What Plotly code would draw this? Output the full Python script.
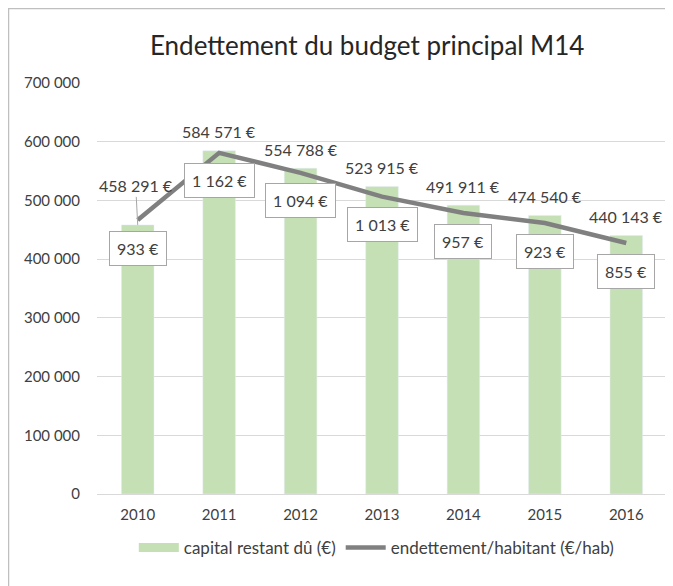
import plotly.graph_objects as go

years = ["2010", "2011", "2012", "2013", "2014", "2015", "2016"]
capital = [458291, 584571, 554788, 523915, 491911, 474540, 440143]
par_habitant = [933, 1162, 1094, 1013, 957, 923, 855]
y_ticks = [0, 100000, 200000, 300000, 400000, 500000, 600000, 700000]

GREEN = "#C5E0B4"
GRAY = "#808080"
TXT = "#404040"
FONT = "Lato"

pos = list(range(len(years)))

# figure is drawn inside the page's 8px body margin
W, H = 665, 578
L, R, T, B = 89, 6, 75, 92
PW, PH = W - L - R, H - T - B


def fmt(v):
    return f"{v:,}".replace(",", " ") + " €"


fig = go.Figure()
fig.add_trace(go.Bar(x=pos, y=capital, marker_color=GREEN, width=0.4,
                     showlegend=False, name="capital restant dû (€)"))
fig.add_trace(go.Scatter(x=pos, y=par_habitant, yaxis="y2", mode="lines",
                         line=dict(color=GRAY, width=4.5), showlegend=False,
                         name="endettement/habitant (€/hab)"))
# legend entries
fig.add_trace(go.Scatter(x=[None], y=[None], mode="lines",
                         line=dict(color=GREEN, width=9), name="capital restant dû (€)"))
fig.add_trace(go.Scatter(x=[None], y=[None], mode="lines",
                         line=dict(color=GRAY, width=4.5), name="endettement/habitant (€/hab)"))

annotations = []
for i, v in zip(pos, capital):
    if i == 0:
        annotations.append(dict(x=i, y=v, xref="x", yref="y", text=fmt(v),
                                showarrow=True, arrowhead=0, arrowwidth=1, arrowcolor="#A6A6A6",
                                ax=-2, ay=-39, font=dict(family=FONT, size=16, color=TXT)))
    else:
        annotations.append(dict(x=i, y=v, xref="x", yref="y", text=fmt(v),
                                showarrow=False, yanchor="middle", yshift=19,
                                font=dict(family=FONT, size=16, color=TXT)))
for i, v in zip(pos, par_habitant):
    annotations.append(dict(x=i, y=v, xref="x", yref="y2", text=fmt(v),
                            showarrow=False, yanchor="middle", yshift=-28,
                            bgcolor="white", bordercolor="#A6A6A6", borderwidth=1, borderpad=7,
                            font=dict(family=FONT, size=16, color=TXT)))

fig.update_layout(
    width=W, height=H,
    margin=dict(l=L, r=R, t=T, b=B),
    paper_bgcolor="white", plot_bgcolor="white",
    separators=", ",
    title=dict(text="Endettement du budget principal M14", x=0.474, xref="paper",
               y=1 - 38 / H, yref="container", xanchor="center", yanchor="middle",
               font=dict(family=FONT, size=26, color="#262626")),
    xaxis=dict(range=[-0.5, len(years) - 0.5], tickvals=pos, ticktext=years,
               showgrid=False, showline=False, zeroline=False, ticks="", ticklabelstandoff=10,
               tickfont=dict(family=FONT, size=15, color=TXT)),
    yaxis=dict(range=[0, 700000], tickvals=y_ticks, tickformat=",d",
               gridcolor="#D9D9D9", gridwidth=1, zeroline=True, zerolinecolor="#D9D9D9",
               zerolinewidth=1, showline=False, ticks="", ticklabelstandoff=16,
               tickfont=dict(family=FONT, size=15, color=TXT)),
    yaxis2=dict(range=[0, 1400], overlaying="y", side="right", visible=False),
    legend=dict(orientation="h", x=0.49, xanchor="center", y=-0.131, yanchor="middle",
                font=dict(family=FONT, size=17, color=TXT), itemwidth=40),
    annotations=annotations,
    shapes=[
        dict(type="line", xref="paper", yref="paper", x0=-L / PW, x1=(W - L) / PW,
             y0=(PH + T - 0.5) / PH, y1=(PH + T - 0.5) / PH, line=dict(color="#BFBFBF", width=1.5)),
        dict(type="line", xref="paper", yref="paper", x0=(0.5 - L) / PW, x1=(0.5 - L) / PW,
             y0=(PH + T) / PH, y1=-B / PH, line=dict(color="#BFBFBF", width=1.5)),
    ],
)

fig.write_html("out.html")
